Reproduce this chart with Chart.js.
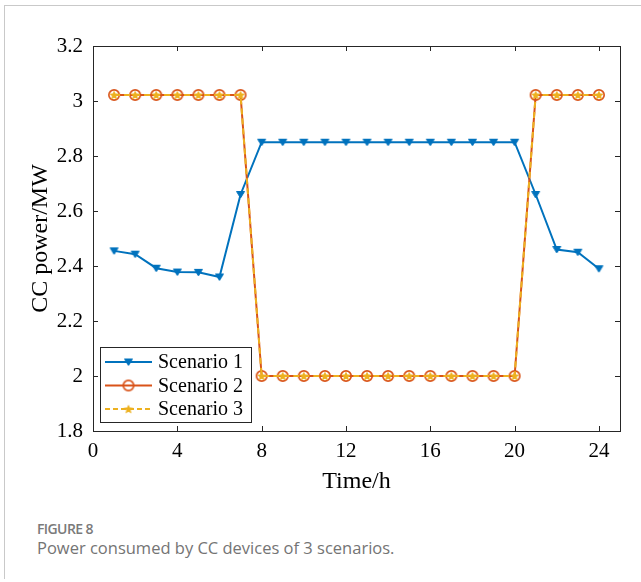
<!DOCTYPE html>
<html>
<head>
<meta charset="utf-8">
<script src="https://cdn.jsdelivr.net/npm/chart.js@4.4.1/dist/chart.umd.min.js"></script>
<style>
  html, body { margin: 0; padding: 0; background: #fff; }
  body { width: 641px; height: 582px; position: relative; overflow: hidden; }
  #frame {
    position: absolute; left: 4px; top: 5px; width: 660px; height: 573px;
    border-left: 1px solid #c9c9c9; border-top: 1px solid #c9c9c9;
  }
  #chart { position: absolute; left: 0; top: 0; }
  .fig-label {
    position: absolute; left: 37px; top: 519px;
    font-family: "Open Sans", sans-serif; font-weight: 600; font-size: 14px;
    color: #7a7a7a; letter-spacing: -0.6px;
  }
  .fig-caption {
    position: absolute; left: 37px; top: 536px;
    font-family: "Open Sans", sans-serif; font-size: 16.5px;
    color: #747474;
  }
</style>
</head>
<body>
<div id="frame"></div>
<canvas id="chart" width="641" height="500"></canvas>
<div class="fig-label">FIGURE 8</div>
<div class="fig-caption">Power consumed by CC devices of 3 scenarios.</div>

<script>
// hours of the day
const hours = [1, 2, 3, 4, 5, 6, 7, 8, 9, 10, 11, 12, 13, 14, 15, 16, 17, 18, 19, 20, 21, 22, 23, 24];

// CC power (MW) per scenario
const scenario1 = [2.455, 2.443, 2.392, 2.378, 2.377, 2.360, 2.660, 2.850, 2.850, 2.850, 2.850, 2.850,
                   2.850, 2.850, 2.850, 2.850, 2.850, 2.850, 2.850, 2.850, 2.660, 2.460, 2.450, 2.390];
const scenario2 = [3.022, 3.022, 3.022, 3.022, 3.022, 3.022, 3.022, 2.0, 2.0, 2.0, 2.0, 2.0,
                   2.0, 2.0, 2.0, 2.0, 2.0, 2.0, 2.0, 2.0, 3.022, 3.022, 3.022, 3.022];
const scenario3 = [3.022, 3.022, 3.022, 3.022, 3.022, 3.022, 3.022, 2.0, 2.0, 2.0, 2.0, 2.0,
                   2.0, 2.0, 2.0, 2.0, 2.0, 2.0, 2.0, 2.0, 3.022, 3.022, 3.022, 3.022];

const seriesNames = ['Scenario 1', 'Scenario 2', 'Scenario 3'];
const xTicks = [0, 4, 8, 12, 16, 20, 24];
const yTicks = [1.8, 2.0, 2.2, 2.4, 2.6, 2.8, 3.0, 3.2];

const BLUE = '#0072BD';
const RED = '#D95319';
const YELLOW = '#EDB120';
const AXIS = '#262626';
const SERIF = '"Liberation Serif", "Times New Roman", serif';

function toPoints(values) {
    return hours.map((h, i) => ({ x: h, y: values[i] }));
}

// marker images (MATLAB style)
function makeTriangle() {
    const c = document.createElement('canvas');
    c.width = 11; c.height = 11;
    const g = c.getContext('2d');
    g.fillStyle = BLUE;
    g.strokeStyle = BLUE;
    g.lineWidth = 1;
    g.beginPath();
    g.moveTo(1.5, 2.5);
    g.lineTo(9.5, 2.5);
    g.lineTo(5.5, 9);
    g.closePath();
    g.fill();
    g.stroke();
    return c;
}

function makeCircle() {
    const c = document.createElement('canvas');
    c.width = 14; c.height = 14;
    const g = c.getContext('2d');
    g.strokeStyle = RED;
    g.lineWidth = 1.7;
    g.beginPath();
    g.arc(7, 7, 5.2, 0, Math.PI * 2);
    g.stroke();
    return c;
}

function makeStar() {
    const c = document.createElement('canvas');
    c.width = 12; c.height = 12;
    const g = c.getContext('2d');
    g.fillStyle = YELLOW;
    g.beginPath();
    for (let i = 0; i < 10; i++) {
        const r = i % 2 === 0 ? 5 : 2.3;
        const a = -Math.PI / 2 + i * Math.PI / 5;
        const px = 6 + r * Math.cos(a);
        const py = 6.4 + r * Math.sin(a);
        if (i === 0) g.moveTo(px, py); else g.lineTo(px, py);
    }
    g.closePath();
    g.fill();
    return c;
}

const triImg = makeTriangle();
const circImg = makeCircle();
const starImg = makeStar();

// axes box with inward ticks on all four sides
const boxPlugin = {
    id: 'matlabBox',
    afterDatasetsDraw(chart) {
        const { ctx, chartArea: a, scales } = chart;
        ctx.save();
        ctx.strokeStyle = AXIS;
        ctx.lineWidth = 1;
        ctx.strokeRect(Math.round(a.left) + 0.5, Math.round(a.top) + 0.5,
            Math.round(a.right - a.left), Math.round(a.bottom - a.top));
        const tl = 5;
        ctx.beginPath();
        xTicks.forEach(v => {
            const px = Math.round(scales.x.getPixelForValue(v)) + 0.5;
            ctx.moveTo(px, a.bottom); ctx.lineTo(px, a.bottom - tl);
            ctx.moveTo(px, a.top); ctx.lineTo(px, a.top + tl);
        });
        yTicks.forEach(v => {
            const py = Math.round(scales.y.getPixelForValue(v)) + 0.5;
            ctx.moveTo(a.left, py); ctx.lineTo(a.left + tl, py);
            ctx.moveTo(a.right, py); ctx.lineTo(a.right - tl, py);
        });
        ctx.stroke();
        ctx.restore();
    }
};

// legend drawn inside the axes, lower left
const legendPlugin = {
    id: 'matlabLegend',
    afterDraw(chart) {
        const { ctx, chartArea: a } = chart;
        const bx = a.left + 7, by = a.bottom - 84, bw = 151, bh = 75;
        ctx.save();
        ctx.fillStyle = '#fff';
        ctx.fillRect(bx, by, bw, bh);
        ctx.strokeStyle = AXIS;
        ctx.lineWidth = 1;
        ctx.strokeRect(Math.round(bx) + 0.5, Math.round(by) + 0.5, bw, bh);

        const rows = [
            { color: BLUE, dash: [], img: triImg },
            { color: RED, dash: [], img: circImg },
            { color: YELLOW, dash: [5, 3], img: starImg }
        ];
        ctx.font = '20px ' + SERIF;
        ctx.textBaseline = 'middle';
        rows.forEach((r, i) => {
            const cy = by + 15 + i * 23.5;
            ctx.strokeStyle = r.color;
            ctx.lineWidth = 2;
            ctx.setLineDash(r.dash);
            ctx.beginPath();
            ctx.moveTo(bx + 5, cy);
            ctx.lineTo(bx + 52, cy);
            ctx.stroke();
            ctx.setLineDash([]);
            ctx.drawImage(r.img, bx + 28.5 - r.img.width / 2, cy - r.img.height / 2);
            ctx.fillStyle = '#000';
            ctx.fillText(seriesNames[i], bx + 58, cy + 1);
        });
        ctx.restore();
    }
};

const ctx = document.getElementById('chart').getContext('2d');

const chart = new Chart(ctx, {
    type: 'line',
    data: {
        datasets: [
            {
                label: seriesNames[0],
                data: toPoints(scenario1),
                borderColor: BLUE,
                borderWidth: 2,
                pointStyle: triImg,
                tension: 0,
                order: 2
            },
            {
                label: seriesNames[1],
                data: toPoints(scenario2),
                borderColor: RED,
                borderWidth: 2,
                pointStyle: circImg,
                tension: 0,
                order: 1
            },
            {
                label: seriesNames[2],
                data: toPoints(scenario3),
                borderColor: YELLOW,
                borderWidth: 2,
                borderDash: [6, 4],
                pointStyle: starImg,
                tension: 0,
                order: 0
            }
        ]
    },
    options: {
        responsive: false,
        animation: false,
        devicePixelRatio: 1,
        layout: { padding: { top: 46, right: 21, left: 0, bottom: 0 } },
        plugins: {
            legend: { display: false },
            tooltip: { enabled: false }
        },
        scales: {
            x: {
                type: 'linear',
                min: 0,
                max: 25,
                afterBuildTicks: (axis) => { axis.ticks = xTicks.map(v => ({ value: v })); },
                afterFit: (axis) => { axis.height = 69; },
                grid: { display: false, drawTicks: false },
                border: { display: false },
                ticks: {
                    color: '#000',
                    padding: 8,
                    maxRotation: 0,
                    font: { family: SERIF, size: 21 }
                },
                title: {
                    display: true,
                    text: 'Time/h',
                    color: '#000',
                    padding: { top: 0, bottom: 4 },
                    font: { family: SERIF, size: 24 }
                }
            },
            y: {
                type: 'linear',
                min: 1.8,
                max: 3.2,
                afterBuildTicks: (axis) => { axis.ticks = yTicks.map(v => ({ value: v })); },
                afterFit: (axis) => { axis.width = 93; },
                grid: { display: false, drawTicks: false },
                border: { display: false },
                ticks: {
                    color: '#000',
                    padding: 10,
                    font: { family: SERIF, size: 21 },
                    callback: (v) => String(+v.toFixed(1))
                },
                title: {
                    display: true,
                    text: 'CC power/MW',
                    color: '#000',
                    padding: { top: 26, bottom: 0 },
                    font: { family: SERIF, size: 24 }
                }
            }
        }
    },
    plugins: [boxPlugin, legendPlugin]
});
</script>
</body>
</html>
